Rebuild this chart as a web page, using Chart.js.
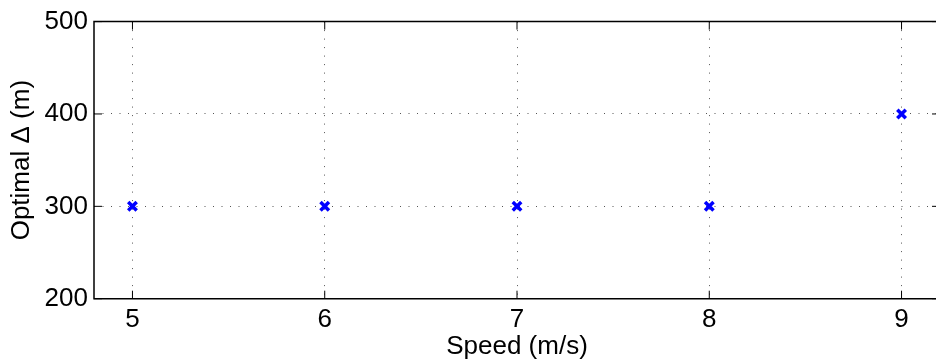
<!DOCTYPE html>
<html>
<head>
<meta charset="utf-8">
<script src="https://cdn.jsdelivr.net/npm/chart.js@4"></script>
<style>
  html, body { margin: 0; padding: 0; background: #fff; overflow: hidden; }
  #wrap { width: 936px; height: 362px; overflow: hidden; }
</style>
</head>
<body>
<div id="wrap"><canvas id="chart" width="940" height="362"></canvas></div>
<script>
// === DATA ===
const speeds = [5, 6, 7, 8, 9];
const optimalDelta = [300, 300, 300, 300, 400];
const xTicks = [5, 6, 7, 8, 9];
const yTicks = [200, 300, 400, 500];

const FONT = 'Liberation Sans, Arial, Helvetica, sans-serif';

// box + inward tick marks, matlab style
const frame = {
  id: 'frame',
  afterDraw(chart) {
    const { ctx, chartArea: a, scales: { x, y } } = chart;
    ctx.save();
    ctx.strokeStyle = '#000';
    ctx.lineWidth = 1.5;
    ctx.beginPath();
    ctx.moveTo(a.left, a.top); ctx.lineTo(a.right, a.top);
    ctx.lineTo(a.right, a.bottom); ctx.lineTo(a.left, a.bottom);
    ctx.closePath();
    ctx.stroke();
    ctx.lineWidth = 1;
    const len = 8;
    xTicks.forEach(v => {
      const px = x.getPixelForValue(v);
      ctx.beginPath();
      ctx.moveTo(px, a.bottom); ctx.lineTo(px, a.bottom - len);
      ctx.moveTo(px, a.top); ctx.lineTo(px, a.top + len);
      ctx.stroke();
    });
    yTicks.forEach(v => {
      const py = y.getPixelForValue(v);
      ctx.beginPath();
      ctx.moveTo(a.left, py); ctx.lineTo(a.left + len, py);
      ctx.moveTo(a.right, py); ctx.lineTo(a.right - len, py);
      ctx.stroke();
    });
    ctx.restore();
  }
};

new Chart(document.getElementById('chart'), {
  type: 'scatter',
  data: {
    datasets: [{
      data: speeds.map((s, i) => ({ x: s, y: optimalDelta[i] })),
      pointStyle: 'crossRot',
      pointRadius: 6,
      pointBorderWidth: 3.5,
      borderColor: '#0000ff',
      backgroundColor: '#0000ff'
    }]
  },
  options: {
    responsive: false,
    animation: false,
    layout: { autoPadding: false, padding: { top: 20, right: 0, left: 0, bottom: 0 } },
    plugins: { legend: { display: false }, tooltip: { enabled: false } },
    scales: {
      x: {
        type: 'linear',
        min: 4.8,
        max: 9.2,
        afterBuildTicks: s => { s.ticks = xTicks.map(v => ({ value: v })); },
        afterFit: s => { s.height = 63.3; },
        grid: { color: '#555', lineWidth: 1, drawTicks: false },
        border: { display: false, dash: [1, 7.5] },
        ticks: { color: '#000', font: { family: FONT, size: 26 }, padding: 6, maxRotation: 0 },
        title: { display: true, text: 'Speed (m/s)', color: '#000', font: { family: FONT, size: 26 }, padding: { top: -5, bottom: 0 } }
      },
      y: {
        min: 200,
        max: 500,
        afterBuildTicks: s => { s.ticks = yTicks.map(v => ({ value: v })); },
        afterFit: s => { s.width = 94; },
        grid: { color: '#555', lineWidth: 1, drawTicks: false },
        border: { display: false, dash: [1, 7.5] },
        ticks: { color: '#000', font: { family: FONT, size: 26 }, padding: 6 },
        title: { display: true, text: 'Optimal Δ (m)', color: '#000', font: { family: FONT, size: 26 }, padding: { top: 6, bottom: 0 } }
      }
    }
  },
  plugins: [frame]
});
</script>
</body>
</html>
